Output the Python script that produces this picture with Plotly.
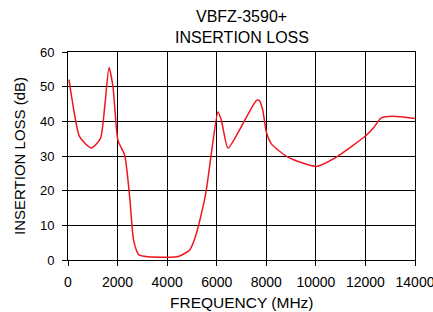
import plotly.graph_objects as go

freq_mhz = [40, 137, 472, 943, 1306, 1480, 1655, 1816, 2017, 2287, 2489, 2650, 2864,
            3969, 4478, 4909, 5179, 5555, 5784, 6051, 6188, 6454, 6926, 7600, 7720,
            7850, 8003, 8204, 8875, 10020, 10827, 12037, 12303, 12642, 13110, 14000]
loss_db = [52.0, 47.5, 35.5, 32.3, 35.0, 44.1, 55.5, 49.9, 34.5, 30.2, 18.1, 5.6, 1.5,
           0.8, 1.1, 2.9, 7.6, 19.1, 30.7, 42.7, 40.3, 32.3, 37.6, 46.0, 46.0,
           43.5, 36.9, 33.5, 29.7, 27.0, 29.7, 36.0, 37.9, 41.0, 41.5, 40.8]

x_ticks = [0, 2000, 4000, 6000, 8000, 10000, 12000, 14000]
y_ticks = [0, 10, 20, 30, 40, 50, 60]

title_lines = ["VBFZ-3590+", "INSERTION LOSS"]
x_title = "FREQUENCY (MHz)"
y_title = "INSERTION LOSS (dB)"

font = "Liberation Sans, Arial, sans-serif"
W, H = 433, 312
ML, MR, MT, MB = 68, 18, 52, 52
plot_h = H - MT - MB

def py(pix):
    return (H - MB - pix) / plot_h

fig = go.Figure()
fig.add_trace(go.Scatter(x=freq_mhz, y=loss_db, mode="lines",
                         line=dict(color="#f0141e", width=1.5, shape="spline", smoothing=0.6),
                         hoverinfo="skip"))

annotations = [
    dict(text=title_lines[0], x=0.5, y=py(17), xref="paper", yref="paper",
         xanchor="center", yanchor="middle", showarrow=False, font=dict(size=16)),
    dict(text=title_lines[1], x=0.5, y=py(37), xref="paper", yref="paper",
         xanchor="center", yanchor="middle", showarrow=False, font=dict(size=16)),
    dict(text=x_title, x=0.5, y=py(302), xref="paper", yref="paper",
         xanchor="center", yanchor="middle", showarrow=False, font=dict(size=15.5)),
    dict(text=y_title, x=(19 - ML) / (W - ML - MR), y=0.5, xref="paper", yref="paper",
         xanchor="center", yanchor="middle", showarrow=False, textangle=-90,
         font=dict(size=15)),
]

fig.update_layout(
    width=W, height=H,
    margin=dict(l=ML, r=MR, t=MT, b=MB, autoexpand=False),
    paper_bgcolor="white", plot_bgcolor="white",
    showlegend=False,
    font=dict(family=font, size=14, color="black"),
    annotations=annotations,
)
fig.update_xaxes(range=[0, 14000], tickvals=x_ticks, ticktext=[str(v) for v in x_ticks],
                 showgrid=True, gridcolor="black", gridwidth=1,
                 showline=True, linecolor="black", linewidth=1, mirror=True,
                 ticks="outside", ticklen=5, tickcolor="black", zeroline=False,
                 automargin=False, ticklabeloverflow="allow", ticklabelstandoff=4,
                 tickfont=dict(size=14))
fig.update_yaxes(range=[0, 60], tickvals=y_ticks,
                 showgrid=True, gridcolor="black", gridwidth=1,
                 showline=True, linecolor="black", linewidth=1, mirror=True,
                 ticks="outside", ticklen=5, tickcolor="black", zeroline=False,
                 automargin=False, ticklabeloverflow="allow", ticklabelstandoff=5,
                 tickfont=dict(size=13))

fig.write_html("out.html", config={"displayModeBar": False},
               post_script="document.body.style.margin='0';document.body.style.overflow='hidden';")
